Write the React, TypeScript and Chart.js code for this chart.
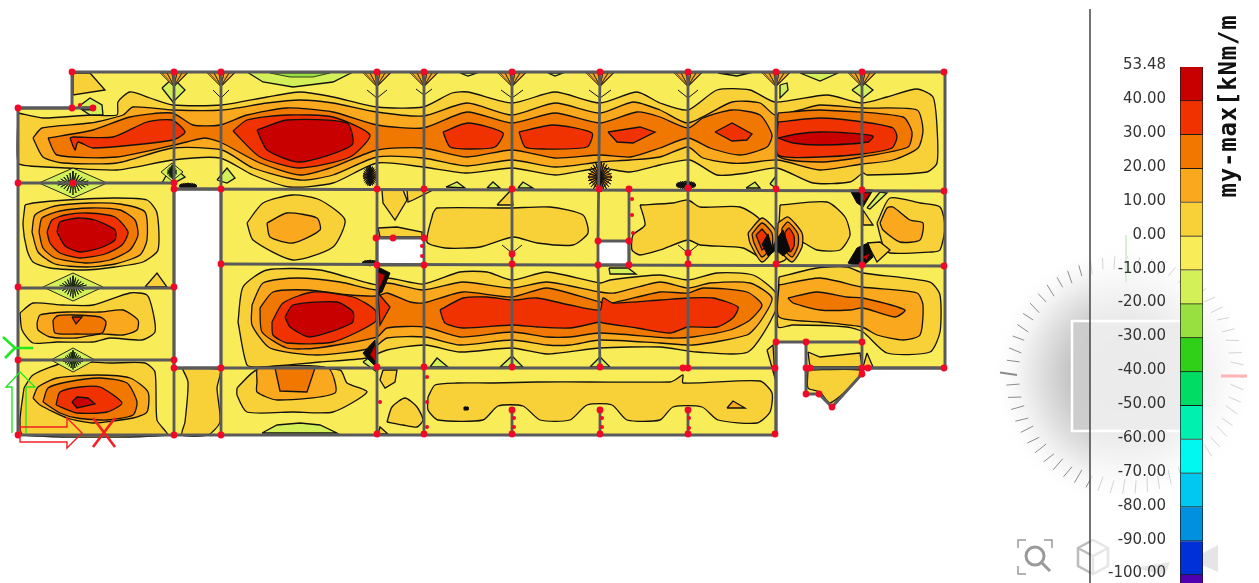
import React, { useEffect, useRef } from "react";
import { Chart, registerables } from "chart.js";
Chart.register(...registerables);

type Pt = number[];

// ---- colour scale (legend) ----
const legendLabels = ["53.48","40.00","30.00","20.00","10.00","0.00","-10.00","-20.00","-30.00","-40.00","-50.00","-60.00","-70.00","-80.00","-90.00","-100.00"];
const legendColors = ["#c80000","#f03200","#f07800","#faa81e","#f8d038","#f8ec58","#d4f058","#98e040","#30d018","#00dc64","#00f0b0","#00f8f0","#00c8f0","#0090e0","#0030d8","#5000b0"];
const legendTitle = "my-max[kNm/m";

// ---- plan geometry ----
const planOutline: Pt[] = [[72,72],[945,72],[945,368],[862,368],[862,374],[832,407],[819,394],[806,394],[806,342],[776,342],[776,435],[18,435],[18,108],[72,108]];
const planHoles: Pt[][] = [
  [[174,189],[221,189],[221,368],[174,368]],
  [[377,238],[424,238],[424,265],[377,265]],
  [[598,241],[629,241],[629,265],[598,265]],
];
const walls: number[][] = [
  [174,72,174,435],[221,72,221,435],[377,72,377,435],[424,72,424,238],[424,265,424,435],
  [512,72,512,367],[512,410,512,434],[600,72,598,241],[598,265,600,367],[600,410,600,434],
  [688,72,688,368],[688,410,688,434],[776,72,776,435],[862,72,862,374],[629,189,629,265],
  [18,108,95,108],[18,183,174,183],[174,189,945,191],[221,264,945,266],[18,288,174,288],
  [18,360,174,360],[174,368,776,368],[806,368,945,368],[806,342,862,342],
];
const largeNodes: Pt[] = [
  [72,72],[174,72],[221,72],[377,72],[424,72],[512,72],[600,72],[688,72],[776,72],[862,72],[944,72],
  [18,108],[72,108],[93,108],[18,183],[73,183],[174,183],[174,189],[221,189],[377,189],[424,189],[512,189],[599,189],[629,189],[688,188],[776,189],[862,190],[944,191],
  [376,238],[393,238],[424,238],[598,241],[629,241],[512,254],[688,253],
  [221,264],[377,265],[424,265],[512,264],[598,265],[629,265],[688,264],[776,264],[862,265],[944,266],
  [18,287],[174,287],[18,360],[174,360],[174,368],[221,368],[377,367],[424,367],[512,367],[600,367],[683,368],[688,368],[775,368],[806,368],[810,368],[862,368],[868,368],[944,368],[862,374],
  [776,342],[806,342],[862,342],[806,394],[819,394],[832,407],[512,410],[600,410],[688,410],
  [18,435],[174,435],[221,435],[377,434],[424,434],[512,434],[600,434],[688,434],[775,434],
];
const smallNodes: Pt[] = [[632,199],[632,215],[633,233],[422,246],[422,256],[380,402],[427,402],[427,427],[427,377],[514,418],[514,427],[602,418],[602,427],[689,418],[689,428],[80,105]];

// ---- contour polygons by lower bound of the band ----
const bandFrom0: Pt[][] = [
  // long upper band
  [[18,113],[43,118],[90,115],[117,115],[118,102],[130,92],[150,98],[173,105],[222,105],[267,97],[300,92],[333,97],[377,107],[423,107],[452,93],[468,92],[512,103],[555,92],[600,103],[637,92],[660,103],[688,110],[717,90],[750,90],[775,102],[827,95],[862,103],[887,97],[917,89],[933,97],[937,127],[937,163],[927,172],[867,175],[863,173],[850,182],[813,183],[777,168],[747,173],[717,175],[690,160],[660,165],[630,172],[600,168],[555,175],[512,168],[467,173],[423,167],[377,163],[333,183],[290,187],[253,175],[220,158],[173,160],[117,170],[67,168],[30,166],[18,163]],
  [[73,73],[90,73],[105,90],[73,95]],
  // left column lobes
  [[25,205],[33,203],[67,200],[113,198],[147,200],[157,213],[158,250],[143,262],[115,267],[85,270],[50,268],[33,262],[27,250],[23,225]],
  [[20,313],[33,303],[63,305],[93,305],[130,293],[147,295],[153,312],[155,332],[142,340],[110,338],[93,342],[57,342],[33,343],[22,330]],
  [[24,388],[33,375],[67,362],[110,363],[145,363],[155,372],[157,420],[167,435],[23,435],[20,420]],
  [[145,287],[157,273],[167,287]],
  [[182,368],[220,370],[217,388],[220,422],[208,435],[182,435],[185,422],[188,382]],
  // large central panels
  [[247,223],[263,203],[293,195],[320,200],[345,220],[333,247],[293,260],[253,240]],
  [[238,322],[243,287],[267,270],[320,270],[377,285],[387,278],[423,284],[460,272],[487,272],[512,280],[547,272],[600,283],[610,280],[660,275],[688,280],[717,273],[753,275],[775,292],[775,312],[748,352],[697,352],[660,347],[600,348],[547,354],[512,348],[460,352],[425,345],[387,350],[367,358],[320,362],[260,367],[247,365]],
  [[779,277],[817,268],[847,267],[863,273],[930,282],[940,295],[940,332],[930,352],[887,353],[863,332],[847,327],[793,325],[778,327]],
  [[433,213],[437,208],[510,208],[550,207],[583,215],[588,233],[573,245],[537,243],[513,237],[480,247],[445,248],[427,242]],
  [[640,205],[673,203],[688,200],[700,207],[740,207],[760,220],[750,233],[762,258],[743,248],[700,245],[688,240],[660,250],[640,255],[632,250],[633,235],[645,225]],
  [[780,205],[827,202],[845,217],[850,235],[840,250],[817,250],[800,242],[785,260],[778,262]],
  [[877,223],[890,198],[920,203],[940,207],[945,227],[940,250],[932,252],[890,253],[883,245],[880,235]],
  [[863,210],[873,225],[863,225]],
  [[382,190],[403,190],[407,200],[395,220],[383,203]],
  [[407,190],[433,190],[413,200],[408,202]],
  [[378,228],[397,227],[422,232],[422,237],[380,237]],
  [[497,205],[511,190],[513,205]],
  [[383,370],[397,370],[395,382],[385,388],[380,380]],
  [[387,422],[392,407],[405,398],[417,407],[423,420],[417,427],[403,425]],
  [[378,434],[380,427],[388,434]],
  [[428,397],[435,385],[457,383],[493,383],[537,382],[590,382],[670,382],[675,380],[683,375],[683,383],[760,381],[772,393],[770,412],[757,423],[718,420],[702,407],[673,407],[660,420],[627,420],[612,405],[587,405],[570,420],[540,420],[523,406],[498,406],[483,420],[438,420],[428,410]],
  [[237,388],[257,370],[340,370],[347,383],[367,392],[333,412],[293,412],[247,412],[237,395]],
  [[808,352],[820,357],[860,353],[862,367],[810,367]],
  [[867,353],[873,367],[863,367]],
  [[808,370],[860,370],[857,380],[830,403],[820,392],[808,388]],
  [[767,350],[773,345],[775,378]],
  [[867,243],[880,242],[890,250],[877,262]],
];
const bandFrom10: Pt[][] = [
  [[33,138],[42,128],[90,123],[123,115],[133,107],[173,110],[222,110],[267,103],[300,100],[333,103],[377,112],[423,116],[467,103],[512,115],[555,103],[600,113],[633,102],[660,110],[688,123],[732,102],[760,103],[775,115],[800,110],[820,105],[862,108],[917,110],[923,130],[918,148],[893,160],[862,164],[820,170],[778,160],[747,163],[730,163],[703,158],[688,147],[660,157],[630,160],[600,162],[555,167],[512,160],[467,166],[423,158],[377,157],[333,175],[300,180],[253,168],[222,150],[173,148],[117,163],[63,163],[43,157]],
  [[32,232],[35,215],[55,206],[90,203],[120,204],[145,212],[147,240],[140,255],[115,264],[85,267],[55,264],[38,252]],
  [[37,323],[40,315],[67,312],[100,312],[123,310],[138,320],[137,330],[123,335],[100,334],[77,338],[50,337],[38,330]],
  [[33,398],[38,387],[57,378],[97,375],[130,378],[148,392],[147,412],[133,418],[93,423],[67,418],[40,405]],
  [[267,223],[287,213],[317,218],[320,230],[293,243],[270,237]],
  [[252,305],[263,283],[297,278],[340,282],[377,290],[387,283],[423,290],[463,282],[512,288],[547,282],[600,292],[615,293],[660,282],[688,288],[710,283],[750,283],[772,298],[760,322],[747,335],[693,345],[660,343],[600,340],[570,345],[547,345],[512,340],[460,345],[425,337],[387,338],[373,348],[317,355],[270,348],[252,325]],
  [[779,285],[820,278],[862,287],[917,293],[923,305],[920,335],[903,340],[877,335],[862,327],[820,322],[779,317]],
  [[880,223],[887,208],[893,207],[910,220],[923,223],[920,240],[900,242],[883,230]],
  [[257,382],[258,368],[328,368],[335,393],[277,400],[257,392]],
  [[727,408],[733,401],[745,408]],
  [[748,233],[762,218],[775,230],[775,247],[762,262],[750,243]],
  [[778,223],[788,217],[802,233],[802,247],[792,262],[778,247]],
];
const bandFrom20: Pt[][] = [
  [[48,138],[93,130],[130,117],[172,113],[193,125],[220,125],[247,115],[287,108],[333,112],[377,125],[423,128],[467,112],[512,123],[555,113],[600,123],[637,112],[660,117],[688,128],[703,118],[732,110],[760,115],[772,135],[767,147],[740,155],[710,148],[688,138],[660,148],[630,157],[600,155],[555,158],[512,150],[467,157],[423,148],[377,150],[333,167],[300,175],[260,163],[222,143],[205,138],[187,142],[117,157],[57,155]],
  [[778,113],[820,110],[903,117],[912,132],[908,147],[862,157],[820,162],[778,156]],
  [[39,232],[42,218],[60,211],[90,208],[120,210],[135,220],[138,235],[130,250],[110,260],[85,263],[55,258],[43,248]],
  [[53,320],[57,316],[73,315],[100,317],[106,322],[102,333],[77,334],[55,333]],
  [[43,402],[48,388],[67,382],[100,378],[127,383],[137,402],[133,415],[107,420],[77,418],[60,413]],
  [[260,308],[273,292],[307,290],[350,295],[377,296],[387,293],[410,302],[423,303],[463,292],[512,297],[547,288],[600,302],[612,303],[660,292],[688,293],[703,288],[747,292],[762,305],[750,320],[730,330],[693,337],[670,338],[600,333],[570,337],[547,337],[512,332],[460,337],[425,327],[387,328],[377,337],[317,348],[287,348],[262,332]],
  [[788,298],[817,292],[847,297],[863,298],[905,310],[895,317],[863,308],[850,310],[820,310],[793,303]],
  [[275,368],[315,368],[307,392],[280,391]],
  [[752,234],[762,223],[772,233],[772,246],[762,257],[754,243]],
  [[782,228],[788,222],[798,234],[798,246],[792,257],[782,246]],
];
const bandFrom30: Pt[][] = [
  [[70,138],[75,150],[78,142],[93,148],[173,140],[185,132],[172,120],[147,122],[113,137],[73,137]],
  [[233,131],[247,120],[287,115],[333,117],[370,135],[350,157],[300,168],[260,157]],
  [[443,132],[468,123],[503,133],[495,147],[470,149],[450,147]],
  [[519,132],[553,125],[592,133],[587,147],[543,149],[525,147]],
  [[608,132],[640,127],[655,132],[633,143],[617,142]],
  [[715,132],[732,123],[752,134],[747,140],[732,141]],
  [[778,122],[820,118],[863,122],[893,128],[897,137],[892,148],[862,154],[820,157],[778,155]],
  [[47,232],[52,220],[65,215],[87,213],[115,217],[128,232],[122,245],[105,254],[80,258],[60,253],[50,243]],
  [[72,317],[82,317],[76,324]],
  [[56,405],[60,392],[80,387],[100,387],[122,403],[107,412],[77,413]],
  [[272,322],[283,303],[313,292],[353,297],[375,310],[375,322],[333,342],[287,343],[273,335]],
  [[378,293],[390,307],[380,325]],
  [[440,310],[463,298],[487,297],[512,300],[537,298],[570,305],[600,310],[603,298],[613,303],[660,300],[688,298],[713,298],[738,307],[733,318],[717,327],[688,327],[670,333],[637,328],[603,323],[600,322],[570,328],[537,327],[512,325],[463,328],[445,323]],
  [[756,235],[762,229],[768,236],[768,245],[762,250]],
  [[785,232],[789,228],[794,236],[794,246],[790,252],[785,246]],
];
const bandFrom40: Pt[][] = [
  [[257,130],[287,120],[347,123],[352,145],[300,162],[267,150]],
  [[778,138],[797,134],[820,132],[847,133],[873,136],[868,142],[820,145],[793,143]],
  [[57,232],[60,222],[78,218],[95,220],[115,230],[115,240],[100,248],[80,252],[65,246]],
  [[72,402],[77,397],[88,398],[95,404],[77,408]],
  [[285,317],[293,305],[337,302],[353,312],[352,323],[310,337],[290,327]],
];
const bandFromMinus10: Pt[][] = [
  [[247,72],[263,82],[293,87],[333,82],[353,72]],
  [[262,433],[277,425],[300,423],[320,425],[337,433]],
  [[162,88],[173,78],[185,90],[173,102]],
  [[78,107],[90,98],[102,105],[103,115],[90,115]],
  [[217,180],[227,168],[235,178],[227,183]],
  [[162,183],[172,165],[185,177],[174,183]],
  [[446,187],[457,182],[465,188]],[[487,188],[493,182],[500,188]],[[518,188],[523,182],[533,188]],
  [[430,367],[437,358],[448,367]],[[500,367],[512,356],[523,367]],[[590,367],[600,357],[610,367]],
  [[460,73],[468,76],[477,73]],[[548,73],[555,76],[563,73]],[[718,73],[737,76],[750,73]],[[800,73],[820,81],[838,73]],
  [[780,85],[787,83],[788,90],[780,98]],[[852,90],[863,82],[873,90],[863,98]],
  [[867,208],[880,192],[887,193],[870,209]],
  [[363,362],[377,352],[377,372]],
  [[609,268],[628,268],[636,274],[610,274]],
  [[746,188],[755,182],[760,188]],
  [[770,184],[776,176],[776,188]],
];
const bandFromMinus20: Pt[][] = [
  [[270,73],[290,77],[313,77],[330,73]],
];
const darkSpots: Pt[][] = [
  [[378,267],[390,273],[382,292],[377,295]],
  [[363,353],[375,340],[377,368],[367,358]],
  [[850,190],[873,190],[863,207],[857,203]],
  [[848,263],[857,248],[868,243],[873,257],[862,267]],
  [[762,244],[768,234],[772,248],[776,240],[783,230],[790,250],[783,256],[776,250],[768,256]],
  [[82,107],[93,107],[93,110],[82,110]],
  [[464,407],[468,407],[468,410],[464,410]],
];
const redSpots: Pt[][] = [
  [[378,272],[385,275],[378,292]],
  [[370,355],[375,345],[376,362]],
  [[860,193],[870,193],[864,202]],
  [[862,257],[870,253],[867,260]],
];
// hatched singularities: [x, y, half width, half height]
const topFans = [174,221,377,424,512,600,688,776,862];
const hatchedPatches: number[][] = [[600,177,12,15],[370,176,7,10],[188,186,9,3],[686,185,10,4],[370,263,8,3]];
const stars: number[][] = [[73,183,34,15],[73,287,30,14],[73,360,22,12],[172,172,11,9]];
const openVees: number[][] = [[424,89,8,6],[512,90,11,8],[600,90,11,8],[688,90,10,8],[221,90,8,8],[377,90,10,8],[512,245,10,8],[688,245,10,8]];
const axisGreen: Pt[][] = [[[3,337],[15,348],[33,348]],[[5,358],[15,348]],[[12,433],[12,387],[6,387],[20,372],[35,387],[26,387],[26,433]]];
const axisRed: Pt[][] = [[[93,418],[115,447]],[[115,418],[93,447]],[[20,427],[67,427],[67,418],[82,433],[67,448],[67,442],[20,442],[20,427]]];

const toXY = (p: Pt[]) => p.map(([x, y]) => ({ x, y }));
const closed = (p: Pt[]) => [...p, p[0]];
const LINE = "#111";

function poly(p: Pt[], fill: string, stroke = LINE, w = 1.3, tension = 0) {
  return { data: toXY(closed(p)), showLine: true, fill: "shape", backgroundColor: fill, borderColor: stroke, borderWidth: w, pointRadius: 0, tension, clip: false };
}
// contour bands have rounded outlines when they have enough vertices
const contour = (p: Pt[], fill: string) => poly(p, fill, LINE, 1.3, p.length > 5 ? 0.22 : 0);
function path(p: Pt[], stroke: string, w: number) {
  return { data: toXY(p), showLine: true, fill: false, borderColor: stroke, borderWidth: w, pointRadius: 0, tension: 0, clip: false };
}
function fanSets(x: number) {
  const zig: Pt[] = [];
  for (const k of [-12, -7, -2, 3, 8, 13]) zig.push([x + k, 73], [x, 86]);
  return [poly([[x - 14, 73], [x + 14, 73], [x, 87]], "#f0a828", LINE, 0.6), path(zig, "#2a2010", 0.7)];
}
function patchSets([x, y, w, h]: number[]) {
  const zig: Pt[] = [];
  for (let a = 0; a < 26; a++) {
    const t = (a / 26) * Math.PI * 2;
    zig.push([x, y], [x + Math.cos(t) * w, y + Math.sin(t) * h]);
  }
  return [poly([[x - w, y], [x, y - h], [x + w, y], [x, y + h]], "#e89018", LINE, 0.8), path(zig, "#111", 1)];
}
function starSets([x, y, w, h]: number[]) {
  const zig: Pt[] = [];
  for (let k = -5; k <= 5; k++) {
    const d = (k / 5) * w * 0.45;
    const r = h * (1 - Math.abs(k) / 6);
    zig.push([x + d, y - r * 0.8], [x + d * 0.4, y], [x + d, y + r * 0.8], [x + d * 0.4, y]);
  }
  return [poly([[x - w, y], [x, y - h], [x + w, y], [x, y + h]], "#d4f058", LINE, 0.9), path(zig, "#14240c", 1)];
}

const compassPlugin = {
  id: "compass",
  beforeDatasetsDraw(chart: any) {
    const { ctx, scales } = chart;
    const X = (v: number) => scales.x.getPixelForValue(v);
    const Y = (v: number) => scales.y.getPixelForValue(v);
    const cx = X(1125), cy = Y(375);
    ctx.save();
    const g = ctx.createRadialGradient(cx, cy, 0, cx, cy, 135);
    g.addColorStop(0, "#a8a8a8");
    g.addColorStop(0.4, "#c4c4c4");
    g.addColorStop(0.72, "#ececec");
    g.addColorStop(1, "rgba(255,255,255,0)");
    ctx.fillStyle = g;
    ctx.beginPath(); ctx.arc(cx, cy, 135, 0, Math.PI * 2); ctx.fill();
    ctx.fillStyle = "rgba(205,205,205,0.9)";
    ctx.fillRect(X(1072), Y(321), 118, 110);
    ctx.strokeStyle = "#ffffff"; ctx.lineWidth = 2.5;
    ctx.strokeRect(X(1072), Y(321), 118, 110);
    ctx.strokeStyle = "#8c8c8c"; ctx.lineWidth = 1;
    for (let d = 0; d < 360; d += 6) {
      const t = (d * Math.PI) / 180;
      const r0 = d === 180 ? 108 : 106, r1 = d === 180 ? 125 : 119;
      ctx.lineWidth = d === 180 ? 2 : 1;
      ctx.beginPath();
      ctx.moveTo(cx + Math.cos(t) * r0, cy + Math.sin(t) * r0 - (d % 12 ? 2 : 0));
      ctx.lineTo(cx + Math.cos(t + 0.02) * r1, cy + Math.sin(t + 0.02) * r1);
      ctx.stroke();
    }
    // toolbar icons
    ctx.strokeStyle = "#9a9a9a"; ctx.lineWidth = 3;
    ctx.beginPath(); ctx.arc(X(1035), Y(556), 9, 0, Math.PI * 2); ctx.stroke();
    ctx.beginPath(); ctx.moveTo(X(1042), Y(563)); ctx.lineTo(X(1050), Y(571)); ctx.stroke();
    ctx.lineWidth = 1.5;
    ctx.beginPath();
    for (const [a, b, c, d, e, f] of [[1018,548,1018,540,1026,540],[1044,540,1052,540,1052,548],[1018,566,1018,574,1026,574]]) {
      ctx.moveTo(X(a), Y(b)); ctx.lineTo(X(c), Y(d)); ctx.lineTo(X(e), Y(f));
    }
    ctx.stroke();
    ctx.strokeStyle = "#bdbdbd"; ctx.lineWidth = 2.5;
    ctx.beginPath();
    ctx.moveTo(X(1078), Y(548)); ctx.lineTo(X(1093), Y(540)); ctx.lineTo(X(1108), Y(548)); ctx.lineTo(X(1108), Y(566)); ctx.lineTo(X(1093), Y(574)); ctx.lineTo(X(1078), Y(566)); ctx.closePath();
    ctx.moveTo(X(1078), Y(548)); ctx.lineTo(X(1093), Y(556)); ctx.lineTo(X(1108), Y(548)); ctx.moveTo(X(1093), Y(556)); ctx.lineTo(X(1093), Y(574));
    ctx.stroke();
    ctx.fillStyle = "#bcbcbc";
    ctx.beginPath(); ctx.moveTo(X(1135), Y(568)); ctx.lineTo(X(1170), Y(562)); ctx.lineTo(X(1165), Y(575)); ctx.closePath(); ctx.fill();
    ctx.beginPath(); ctx.moveTo(X(1190), Y(560)); ctx.lineTo(X(1218), Y(545)); ctx.lineTo(X(1218), Y(572)); ctx.closePath(); ctx.fill();
    // translucent legend panel over the compass
    ctx.fillStyle = "rgba(255,255,255,0.62)";
    ctx.fillRect(X(1090), Y(0), X(1259) - X(1090), Y(583) - Y(0));
    ctx.strokeStyle = "#444"; ctx.lineWidth = 1.5;
    ctx.beginPath(); ctx.moveTo(X(1090), Y(9)); ctx.lineTo(X(1090), Y(583)); ctx.stroke();
    ctx.strokeStyle = "#ffb4b4"; ctx.lineWidth = 3;
    ctx.beginPath(); ctx.moveTo(X(1221), Y(376)); ctx.lineTo(X(1247), Y(376)); ctx.stroke();
    ctx.strokeStyle = "#d4f2d0"; ctx.lineWidth = 2;
    ctx.beginPath(); ctx.moveTo(X(1126), Y(235)); ctx.lineTo(X(1126), Y(282)); ctx.stroke();
    ctx.restore();
  },
};

const legendTitlePlugin = {
  id: "legendTitle",
  afterDraw(chart: any) {
    const { ctx } = chart;
    ctx.save();
    ctx.translate(140, 106);
    ctx.rotate(-Math.PI / 2);
    ctx.fillStyle = "#111";
    ctx.font = "bold 24px 'DejaVu Sans Mono'";
    ctx.letterSpacing = "0.8px";
    ctx.textAlign = "center";
    ctx.textBaseline = "middle";
    ctx.fillText(legendTitle, 0, 0);
    ctx.restore();
  },
};

function buildDatasets() {
  const sets: any[] = [];
  sets.push(poly(planOutline, legendColors[5], "#555", 0));
  bandFrom0.forEach((p) => sets.push(contour(p, legendColors[4])));
  bandFrom10.forEach((p) => sets.push(contour(p, legendColors[3])));
  bandFrom20.forEach((p) => sets.push(contour(p, legendColors[2])));
  bandFrom30.forEach((p) => sets.push(contour(p, legendColors[1])));
  bandFrom40.forEach((p) => sets.push(contour(p, legendColors[0])));
  bandFromMinus10.forEach((p) => sets.push(contour(p, legendColors[6])));
  bandFromMinus20.forEach((p) => sets.push(poly(p, legendColors[7], LINE, 0.8)));
  topFans.forEach((x) => sets.push(...fanSets(x)));
  hatchedPatches.forEach((p) => sets.push(...patchSets(p)));
  stars.forEach((s) => sets.push(...starSets(s)));
  openVees.forEach(([x, y, w, h]) => sets.push(path([[x - w, y], [x, y + h], [x + w, y]], LINE, 1)));
  darkSpots.forEach((p) => sets.push(poly(p, "#0a0a0a", "#0a0a0a", 1)));
  redSpots.forEach((p) => sets.push(poly(p, legendColors[0], "#0a0a0a", 0.5)));
  planHoles.forEach((p) => sets.push(poly(p, "#ffffff", "#5a5a5a", 2.8)));
  sets.push(path(closed(planOutline), "#5a5a5a", 3));
  walls.forEach(([a, b, c, d]) => sets.push(path([[a, b], [c, d]], "#5a5a5a", 2.8)));
  sets.push({ data: toXY(smallNodes), showLine: false, pointRadius: 2, pointBackgroundColor: "#ee0a28", pointBorderWidth: 0, clip: false });
  sets.push({ data: toXY(largeNodes), showLine: false, pointRadius: 3.4, pointBackgroundColor: "#ee0a28", pointBorderWidth: 0, clip: false });
  axisGreen.forEach((p, i) => sets.push(path(p, "#22e822", i < 2 ? 2.6 : 1.4)));
  axisRed.forEach((p, i) => sets.push(path(p, "#f02020", i < 2 ? 2.6 : 1.4)));
  return sets.reverse();
}

export default function App() {
  const planRef = useRef<HTMLCanvasElement>(null);
  const legendRef = useRef<HTMLCanvasElement>(null);

  useEffect(() => {
    document.body.style.margin = "0";
    document.body.style.overflow = "hidden";
    const plan = new Chart(planRef.current!, {
      type: "scatter",
      data: { datasets: buildDatasets() },
      options: {
        animation: false,
        responsive: false,
        layout: { padding: 0, autoPadding: false },
        scales: {
          x: { type: "linear", min: 0, max: 1259, display: false },
          y: { type: "linear", min: 0, max: 583, reverse: true, display: false },
        },
        plugins: { legend: { display: false }, tooltip: { enabled: false } },
      },
      plugins: [compassPlugin],
    } as any);

    const legend = new Chart(legendRef.current!, {
      type: "bar",
      data: {
        labels: ["scale"],
        datasets: legendColors.map((c, i) => ({
          data: [[i, i + 1]],
          backgroundColor: c,
          borderColor: "#1a1a1a",
          borderWidth: 1,
          barPercentage: 1,
          categoryPercentage: 1,
        })),
      },
      options: {
        animation: false,
        responsive: false,
        layout: { padding: { top: 67, right: 56, left: 0, bottom: 0 }, autoPadding: false },
        scales: {
          x: { stacked: true, display: false },
          y: {
            type: "linear",
            reverse: true,
            min: 0,
            max: 16.24,
            afterFit: (s: any) => { s.width = 90; },
            afterBuildTicks: (s: any) => { s.ticks = legendLabels.map((_, i) => ({ value: i })); },
            grid: { display: false, drawTicks: false },
            border: { display: false },
            ticks: {
              callback: (v: any) => legendLabels[v],
              font: { family: "'DejaVu Sans'", size: 15 },
              color: "#333",
              padding: 14,
              labelOffset: -1.5,
              autoSkip: false,
            },
          },
        },
        plugins: { legend: { display: false }, tooltip: { enabled: false } },
      },
      plugins: [legendTitlePlugin],
    } as any);

    return () => { plan.destroy(); legend.destroy(); };
  }, []);

  return (
    <div style={{ position: "relative", width: 1259, height: 583, background: "#fff", overflow: "hidden" }}>
      <canvas ref={planRef} width={1259} height={583} style={{ position: "absolute", left: 0, top: 0, display: "block" }} />
      <canvas ref={legendRef} width={169} height={640} style={{ position: "absolute", left: 1090, top: 0, display: "block" }} />
    </div>
  );
}
